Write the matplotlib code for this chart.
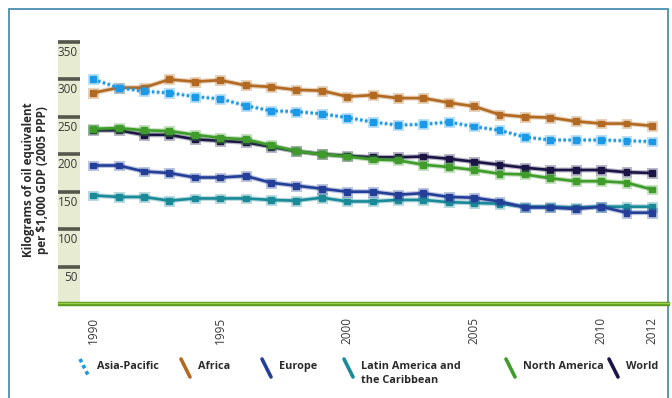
import numpy as np
import matplotlib
matplotlib.use("Agg")
import matplotlib.pyplot as plt
import matplotlib.patheffects as pe
from matplotlib.lines import Line2D
from matplotlib.patches import Rectangle
from matplotlib.transforms import blended_transform_factory, ScaledTranslation

plt.rcParams['font.family'] = ['Open Sans', 'DejaVu Sans']

# energy intensity, kg of oil equivalent per $1,000 GDP (2005 PPP)
years = list(range(1990, 2013))
asia_pacific = [300, 289, 284, 282, 277, 274, 265, 258, 257, 254, 249, 243,
                239, 240, 243, 237, 232, 223, 219, 219, 219, 218, 217]
africa = [282, 289, 289, 300, 297, 299, 292, 290, 286, 285, 277, 279,
          275, 275, 269, 264, 253, 250, 249, 244, 241, 241, 238]
europe = [185, 185, 177, 175, 169, 169, 171, 162, 158, 154, 150, 150,
          146, 148, 143, 142, 137, 129, 129, 127, 130, 122, 122]
latin_america = [145, 143, 143, 138, 141, 141, 141, 139, 138, 142, 137, 137,
                 139, 139, 136, 135, 134, 130, 130, 129, 130, 130, 130]
north_america = [234, 235, 232, 231, 226, 222, 220, 212, 204, 200, 197, 193,
                 192, 186, 183, 179, 174, 173, 168, 164, 164, 162, 153]
world = [232, 232, 226, 226, 220, 218, 216, 210, 204, 200, 198, 196,
         196, 197, 194, 190, 186, 182, 179, 179, 179, 176, 175]

series_names = ['Asia-Pacific', 'Africa', 'Europe',
                'Latin America and\nthe Caribbean', 'North America', 'World']
series_values = [asia_pacific, africa, europe, latin_america, north_america, world]
series_colors = ['#1b98e6', '#b26a22', '#243f98', '#1a8a98', '#3f9c2b', '#1b1545']
draw_order = [3, 2, 5, 4, 1, 0]

y_ticks = [50, 100, 150, 200, 250, 300, 350]
x_ticks = [1990, 1995, 2000, 2005, 2010, 2012]

W, H = 672, 398
fig = plt.figure(figsize=(W / 100, H / 100), dpi=100)
fig.patch.set_facecolor('white')

def fx(px):
    return px / W

def fy(py):
    return 1 - py / H

# plot area: left edge at the tick strip, bottom at the green base line
ax = fig.add_axes([fx(80), fy(304), fx(670) - fx(80), fy(30) - fy(304)])
ax.set_xlim(1989.48, 2012.71)
ax.set_ylim(0, 366)
for s in ax.spines.values():
    s.set_visible(False)

for i in draw_order:
    c = series_colors[i]
    ls = (0, (1.0, 0.9)) if i == 0 else '-'
    halo = [pe.Stroke(linewidth=3.6, foreground=c, alpha=0.3), pe.Normal()]
    ax.plot(years, series_values[i], color=c, lw=1.9, ls=ls,
            marker='s', ms=4.2, mec=c, mfc=c, path_effects=halo, zorder=3)

# y axis: shaded strip with dark tick bars, labels hanging under the bars
strip_w = (80 - 58) / (670 - 80)
trans = blended_transform_factory(ax.transAxes, ax.transData)
ax.add_patch(Rectangle((-strip_w, 0), strip_w, 353, transform=trans,
                       facecolor='#e7ebd2', edgecolor='none', clip_on=False, zorder=0))
ax.set_yticks(y_ticks)
ax.set_yticklabels([str(v) for v in y_ticks])
ax.tick_params(axis='y', direction='out', length=22 * 0.72, width=2.6,
               color='#55564c', pad=-(22 * 0.72) + 1.5, labelsize=8.5,
               labelcolor='#3a3a3a')
down = ScaledTranslation(0, -4 / 100, fig.dpi_scale_trans)
for lbl in ax.get_yticklabels():
    lbl.set_va('top')
    lbl.set_transform(lbl.get_transform() + down)

# x axis: rotated year labels below the base line
ax.set_xticks(x_ticks)
ax.set_xticklabels([str(v) for v in x_ticks], rotation=90, va='top')
ax.tick_params(axis='x', length=0, pad=9, labelsize=8.5, labelcolor='#3a3a3a')

fig.add_artist(Line2D([fx(58), fx(670)], [fy(304), fy(304)], color='#5c9a1c',
                      lw=3.2, solid_capstyle='butt'))
fig.add_artist(Line2D([fx(58), fx(670)], [fy(302.8), fy(302.8)], color='#9ccc4c',
                      lw=1.0, solid_capstyle='butt'))

fig.text(fx(36), fy(180), 'Kilograms of oil equivalent\nper $1,000 GDP (2005 PPP)',
         rotation=90, ha='center', va='center', fontsize=8.4, fontweight='bold',
         color='#2a2a2a', linespacing=1.1)

# legend: slanted colour swatch followed by the series name
legend_x = [80, 181, 262, 344, 506, 609]
for i, x0 in enumerate(legend_x):
    ls = (0, (1.0, 0.9)) if i == 0 else '-'
    fig.add_artist(Line2D([fx(x0), fx(x0 + 9)], [fy(359), fy(377)],
                          color=series_colors[i], lw=2.6, ls=ls,
                          solid_capstyle='round'))
    fig.text(fx(x0 + 17), fy(361), series_names[i], ha='left', va='top',
             fontsize=7.8, fontweight='bold', color='#2a2a2a', linespacing=1.35)

# outer frame
fig.add_artist(Rectangle((fx(9), fy(420)), fx(668) - fx(9), fy(9) - fy(420),
                         facecolor='none', edgecolor='#4a8fb0', lw=1.3,
                         transform=fig.transFigure))

fig.savefig('out.png', dpi=100, facecolor='white')
